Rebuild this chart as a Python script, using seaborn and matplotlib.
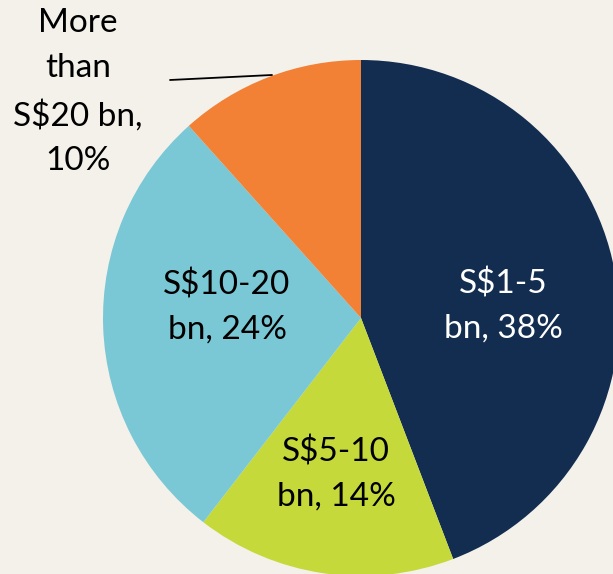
import matplotlib
matplotlib.use("Agg")
import matplotlib.pyplot as plt
import seaborn as sns

categories = ["S$1-5\nbn, 38%", "S$5-10\nbn, 14%", "S$10-20\nbn, 24%", "More\nthan\nS$20 bn,\n10%"]
values = [38, 14, 24, 10]
colors = ["#132D50", "#C6D93A", "#7AC8D5", "#F28035"]
text_colors = ["white", "black", "black", "black"]

sns.set_theme(style="white")
plt.rcParams['font.family'] = ['Lato', 'DejaVu Sans']

W, H = 613, 574
fig = plt.figure(figsize=(W / 100, H / 100), dpi=100)
bg = "#F4F1EA"
fig.patch.set_facecolor(bg)
ax = fig.add_axes([0, 0, 1, 1])
ax.set_facecolor(bg)

cx, cy, r = 361, H - 318, 258
wedges, _ = ax.pie(values, colors=colors, startangle=90, counterclock=False,
                   center=(cx, cy), radius=r, frame=True,
                   wedgeprops=dict(linewidth=0))
ax.set_xlim(0, W)
ax.set_ylim(0, H)
ax.set_aspect("equal")
ax.axis("off")

label_pos = [(503, H - 306), (336, H - 474), (227, H - 307), (78, H - 92)]
spacings = [1.55, 1.55, 1.55, 1.62]
for lab, (x, y), tc, ls in zip(categories, label_pos, text_colors, spacings):
    ax.text(x, y, lab, ha="center", va="center", color=tc, fontsize=24,
            linespacing=ls)

ax.plot([170, 272], [H - 80, H - 75], color="black", lw=1.3)

fig.savefig("out.png", dpi=100, facecolor=bg)
